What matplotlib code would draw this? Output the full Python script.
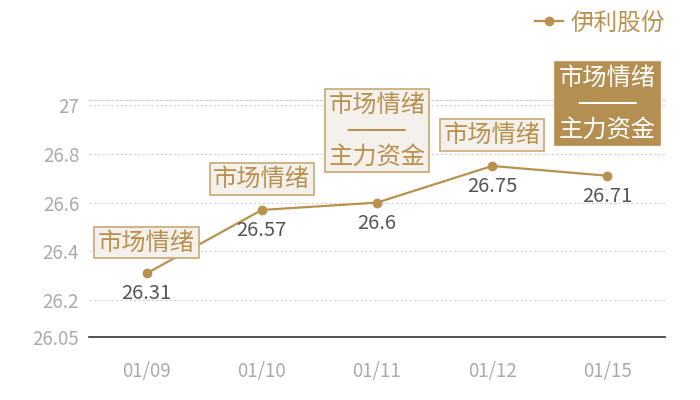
import matplotlib
matplotlib.use("Agg")
import matplotlib.pyplot as plt

plt.rcParams['font.family'] = ['Noto Sans CJK SC', 'DejaVu Sans']

dates = ["01/09", "01/10", "01/11", "01/12", "01/15"]
prices = [26.31, 26.57, 26.6, 26.75, 26.71]
tags = ["市场情绪", "市场情绪", "市场情绪\n────\n主力资金", "市场情绪", "市场情绪\n────\n主力资金"]
highlight = [False, False, False, False, True]
yticks = [26.05, 26.2, 26.4, 26.6, 26.8, 27]
ytick_labels = ["26.05", "26.2", "26.4", "26.6", "26.8", "27"]
series_name = "伊利股份"

gold = "#b8914f"
fig = plt.figure(figsize=(7, 4), dpi=100)
ax = fig.add_axes([0.127, 0.1575, 0.823, 0.5925])
x = list(range(len(dates)))
ax.plot(x, prices, color=gold, lw=1.6, marker="o", ms=6, label=series_name, zorder=3)

ax.set_xlim(-0.5, len(dates) - 0.5)
ax.set_ylim(26.05, 27.02)
ax.set_yticks(yticks)
ax.set_yticklabels(ytick_labels)
ax.set_xticks(x)
ax.set_xticklabels(dates)
ax.tick_params(axis='both', length=0, colors="#aaaaaa", labelsize=13.5)
ax.tick_params(axis='x', pad=17)
ax.tick_params(axis='y', pad=7)
for t in yticks[1:]:
    ax.axhline(t, color="#d0d0d0", lw=0.8, ls=(0, (2, 2)), zorder=1)
for s in ["left", "right"]:
    ax.spines[s].set_visible(False)
ax.spines["top"].set_color("#d0d0d0")
ax.spines["top"].set_linestyle((0, (2, 2)))
ax.spines["top"].set_linewidth(0.8)
ax.spines["bottom"].set_color("#333333")
ax.spines["bottom"].set_linewidth(1.2)

for xi, p in zip(x, prices):
    ax.annotate(f"{p:g}", (xi, p), xytext=(0, -10), textcoords="offset pixels",
                ha="center", va="top", fontsize=14.5, color="#555555", zorder=4)

for xi, p, t, h in zip(x, prices, tags, highlight):
    multi = "\n" in t
    off = 34 if multi else 19
    if h:
        fc, ec, tc = "#b58f52", "#b58f52", "white"
    else:
        fc, ec, tc = "#f4f0eb", "#c9a872", gold
    ax.annotate(t, (xi, p), xytext=(0, off), textcoords="offset pixels",
                ha="center", va="bottom", fontsize=17.5, color=tc, linespacing=1.1,
                multialignment="center", family=['DejaVu Sans', 'Noto Sans CJK SC'],
                bbox=dict(boxstyle="square,pad=0.15", fc=fc, ec=ec, lw=1.2), zorder=5)

leg = fig.legend(loc="upper right", bbox_to_anchor=(0.98, 1.025), frameon=False,
                 fontsize=17, handlelength=1.2, handletextpad=0.3)
for txt in leg.get_texts():
    txt.set_color(gold)

fig.savefig("out.png", dpi=100)
